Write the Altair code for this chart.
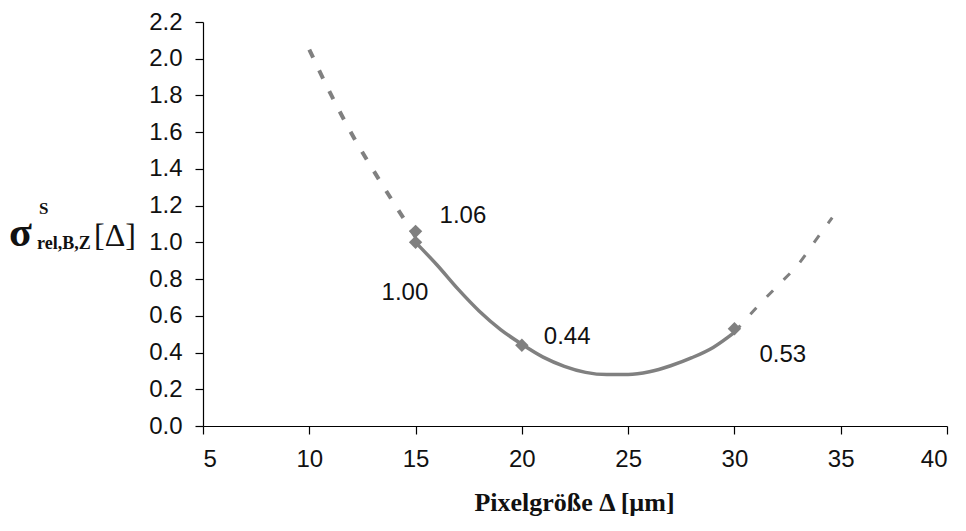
import altair as alt
import pandas as pd

# Fitted curve
left_x = [10, 11, 12, 13, 14, 15]
left_y = [2.05, 1.81, 1.59, 1.395, 1.21, 1.03]
mid_x = [15, 16, 17, 18, 19, 20, 21, 22, 23, 24, 25, 26, 27, 28, 29, 30]
mid_y = [1.00, 0.878, 0.745, 0.625, 0.525, 0.445, 0.375, 0.325, 0.292, 0.28, 0.28, 0.295, 0.328, 0.372, 0.428, 0.51]
right_x = [30, 31, 32, 33, 34, 34.6]
right_y = [0.51, 0.64, 0.76, 0.88, 1.04, 1.135]

# Measured points
pt_x = [15, 15, 20, 30]
pt_y = [1.06, 1.00, 0.44, 0.53]
pt_label = ["1.06", "1.00", "0.44", "0.53"]

x_ticks = [5, 10, 15, 20, 25, 30, 35, 40]
y_ticks = [0.0, 0.2, 0.4, 0.6, 0.8, 1.0, 1.2, 1.4, 1.6, 1.8, 2.0, 2.2]

GRAY = "#808080"

df_left = pd.DataFrame({"x": left_x, "y": left_y})
df_mid = pd.DataFrame({"x": mid_x, "y": mid_y})
df_right = pd.DataFrame({"x": right_x, "y": right_y})
df_pts = pd.DataFrame({"x": pt_x, "y": pt_y, "label": pt_label})

xs = alt.X("x:Q", scale=alt.Scale(domain=[5, 40], nice=False, zero=False),
           axis=alt.Axis(values=x_ticks, title="Pixelgröße Δ [µm]", format="d",
                         titleFont="Liberation Serif", titleFontWeight="bold",
                         titleFontSize=26, titleColor="#111",
                         titleBaseline="alphabetic", titleY=84, titleX=371,
                         labelPadding=13, labelOverlap=False))
ys = alt.Y("y:Q", scale=alt.Scale(domain=[0, 2.2], nice=False),
           axis=alt.Axis(values=y_ticks, title=None, format=".1f", labelPadding=13,
                         labelOverlap=False, tickCount=12))

line_left = alt.Chart(df_left).mark_line(
    color=GRAY, strokeWidth=4, strokeDash=[9, 14], interpolate="monotone"
).encode(x=xs, y=ys)
line_mid = alt.Chart(df_mid).mark_line(
    color=GRAY, strokeWidth=3.5, interpolate="monotone"
).encode(x=xs, y=ys)
line_right = alt.Chart(df_right).mark_line(
    color=GRAY, strokeWidth=3, strokeDash=[9, 15], interpolate="monotone"
).encode(x=xs, y=ys)
points = alt.Chart(df_pts).mark_point(
    shape="diamond", filled=True, size=180, color=GRAY, opacity=1
).encode(x=xs, y=ys)

offsets = {"1.06": (24, -15), "1.00": (-34, 51), "0.44": (22, -8), "0.53": (25, 26)}
label_layers = []
for lab, (dx, dy) in offsets.items():
    label_layers.append(
        alt.Chart(df_pts).transform_filter(alt.datum.label == lab).mark_text(
            align="left", baseline="middle", dx=dx, dy=dy,
            font="Liberation Sans", fontSize=24, color="#111"
        ).encode(x=xs, y=ys, text="label:N")
    )

one = pd.DataFrame({"a": [0]})
def ytxt(t, x, y, size, weight="normal"):
    return alt.Chart(one).mark_text(
        align="left", baseline="alphabetic", font="Liberation Serif",
        fontSize=size, fontWeight=weight, color="#111"
    ).encode(x=alt.value(x), y=alt.value(y), text=alt.value(t))

ytitle = [
    ytxt("σ", -194, 224, 42, "bold"),
    ytxt("S", -164, 192, 17, "bold"),
    ytxt("rel,B,Z", -166, 227, 18, "bold"),
    ytxt("[Δ]", -109, 224, 32),
]

chart = alt.layer(line_left, line_mid, line_right, points, *label_layers, *ytitle).properties(
    width=744, height=404,
    autosize=alt.AutoSizeParams(type="none"),
    padding={"left": 195, "top": 14, "right": 11, "bottom": 97},
    background="white",
).configure_view(stroke=None).configure_axis(
    grid=False, domainColor="#000", domainWidth=1.2, tickColor="#000", tickSize=8,
    tickWidth=1.2, labelFont="Liberation Sans", labelFontSize=24, labelColor="#111",
    labelOverlap=False,
)

chart.save("out.html", embed_options={"renderer": "svg", "actions": False})
